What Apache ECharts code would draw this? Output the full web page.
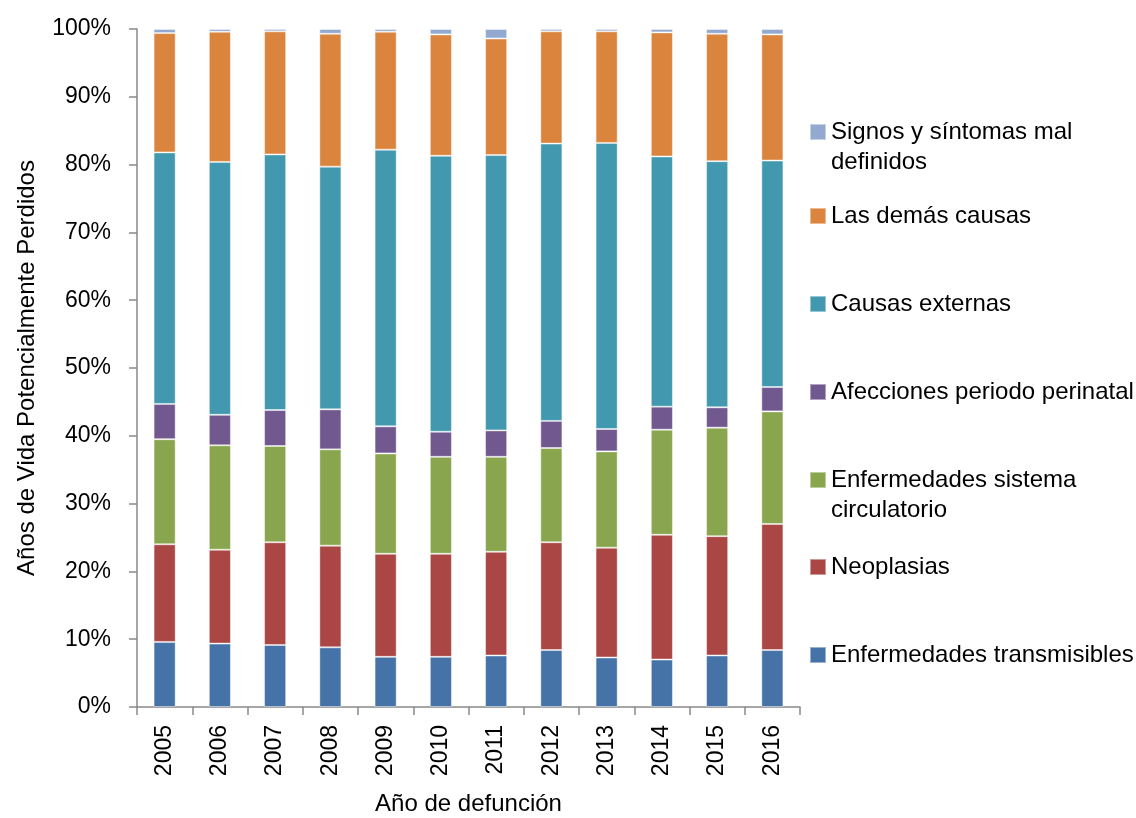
<!DOCTYPE html>
<html>
<head>
<meta charset="utf-8">
<script src="https://cdn.jsdelivr.net/npm/echarts@6/dist/echarts.min.js"></script>
<style>html,body{margin:0;padding:0;background:#fff;}#c{width:1136px;height:818px;}</style>
</head>
<body>
<div id="c"></div>
<script>
const years = ['2005','2006','2007','2008','2009','2010','2011','2012','2013','2014','2015','2016'];
const yTicks = ['0%','10%','20%','30%','40%','50%','60%','70%','80%','90%','100%'];
const transmisibles = [9.6, 9.35, 9.15, 8.8, 7.4, 7.4, 7.6, 8.4, 7.3, 7.0, 7.6, 8.4];
const neoplasias    = [14.4, 13.85, 15.15, 15.0, 15.2, 15.2, 15.3, 15.9, 16.2, 18.4, 17.6, 18.6];
const circulatorio  = [15.5, 15.4, 14.2, 14.2, 14.8, 14.3, 14.0, 13.9, 14.2, 15.5, 16.0, 16.6];
const perinatal     = [5.2, 4.5, 5.3, 5.9, 4.0, 3.7, 3.9, 4.0, 3.3, 3.4, 3.0, 3.6];
const externas      = [37.1, 37.3, 37.7, 35.8, 40.8, 40.7, 40.6, 40.9, 42.2, 36.9, 36.3, 33.4];
const demas         = [17.6, 19.2, 18.15, 19.6, 17.4, 17.9, 17.2, 16.55, 16.45, 18.3, 18.8, 18.6];
const signos        = [0.6, 0.4, 0.35, 0.7, 0.4, 0.8, 1.4, 0.35, 0.35, 0.5, 0.7, 0.8];

const seriesDefs = [
  {name: 'Enfermedades transmisibles', data: transmisibles, color: '#4572A7'},
  {name: 'Neoplasias', data: neoplasias, color: '#AA4643'},
  {name: 'Enfermedades sistema circulatorio', data: circulatorio, color: '#89A54E'},
  {name: 'Afecciones periodo perinatal', data: perinatal, color: '#71588F'},
  {name: 'Causas externas', data: externas, color: '#4198AF'},
  {name: 'Las demás causas', data: demas, color: '#DB843D'},
  {name: 'Signos y síntomas mal definidos', data: signos, color: '#93A9CF'}
];
const legendLabels = {
  'Signos y síntomas mal definidos': 'Signos y síntomas mal\ndefinidos',
  'Enfermedades sistema circulatorio': 'Enfermedades sistema\ncirculatorio'
};
const legendTops = {
  'Signos y síntomas mal definidos': 117,
  'Las demás causas': 201,
  'Causas externas': 289,
  'Afecciones periodo perinatal': 377,
  'Enfermedades sistema circulatorio': 465,
  'Neoplasias': 552,
  'Enfermedades transmisibles': 640
};

const font = 'Liberation Sans, Arial, sans-serif';

const legends = seriesDefs.map(s => {
  const two = !!legendLabels[s.name];
  return {
    data: [s.name],
    left: 809,
    top: legendTops[s.name],
    padding: 0,
    orient: 'vertical',
    itemWidth: 16,
    itemHeight: two ? 46 : 16,
    icon: two ? 'path://M0,0h16v16h-16zM0,46h0.01' : 'rect',
    itemGap: 0,
    selectedMode: false,
    formatter: n => legendLabels[n] || n,
    textStyle: {fontFamily: font, fontSize: 24, color: '#000', lineHeight: 30, padding: [0,0,0,0]}
  };
});

const chart = echarts.init(document.getElementById('c'));
chart.setOption({
  animation: false,
  backgroundColor: '#fff',
  grid: {left: 137, right: 336, top: 29, bottom: 111, containLabel: false, outerBoundsMode: 'none'},
  legend: legends,
  xAxis: {
    type: 'category',
    data: years,
    name: 'Año de defunción',
    nameLocation: 'middle',
    nameGap: 85,
    nameTextStyle: {fontFamily: font, fontSize: 24, color: '#000'},
    axisLine: {lineStyle: {color: '#898989', width: 1.5}},
    axisTick: {show: true, alignWithLabel: false, length: 8, lineStyle: {color: '#898989', width: 1.5}},
    axisLabel: {rotate: 90, fontFamily: font, fontSize: 23, color: '#000', margin: 18}
  },
  yAxis: {
    type: 'value',
    min: 0,
    max: 100,
    interval: 10,
    name: 'Años de Vida Potencialmente Perdidos',
    nameLocation: 'middle',
    nameRotate: 90,
    nameGap: 98,
    nameTextStyle: {fontFamily: font, fontSize: 24, color: '#000'},
    axisLine: {show: true, lineStyle: {color: '#898989', width: 1.5}},
    axisTick: {show: true, length: 8, lineStyle: {color: '#898989', width: 1.5}},
    splitLine: {show: false},
    axisLabel: {fontFamily: font, fontSize: 23, color: '#000', margin: 26,
      formatter: v => yTicks[Math.round(v / 10)]}
  },
  series: seriesDefs.map(s => ({
    name: s.name,
    type: 'bar',
    stack: 'total',
    barWidth: '40%',
    data: s.data,
    itemStyle: {color: s.color, borderColor: 'rgba(255,255,255,0.45)', borderWidth: 1}
  }))
});
</script>
</body>
</html>
